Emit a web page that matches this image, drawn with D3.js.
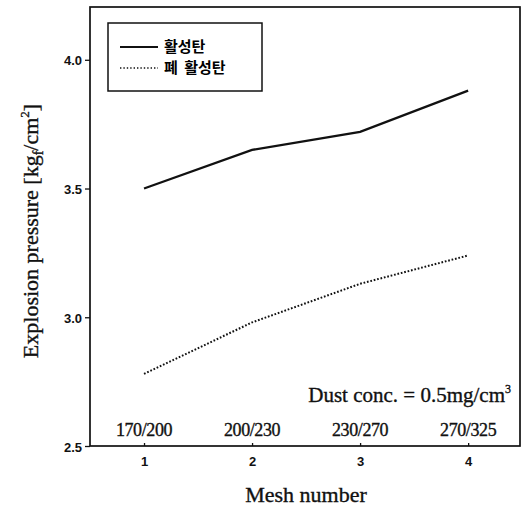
<!DOCTYPE html>
<html>
<head>
<meta charset="utf-8">
<script src="https://cdn.jsdelivr.net/npm/d3@7"></script>
<style>
  body { margin: 0; background: #fff; }
  .serif { font-family: "Liberation Serif", "Times New Roman", serif; fill: #111; stroke: #111; stroke-width: 0.35px; }
  .tick-label { font-family: "Liberation Sans", Arial, sans-serif; font-weight: bold; font-size: 13px; }
</style>
</head>
<body>
<div id="chart"></div>
<script>
// Chart data
const meshIndex = [1, 2, 3, 4];
const meshLabels = ["170/200", "200/230", "230/270", "270/325"];
const activated = [3.50, 3.65, 3.72, 3.88];   // 활성탄
const spent = [2.78, 2.98, 3.13, 3.24];       // 폐 활성탄
const yTicks = [2.5, 3.0, 3.5, 4.0];
const seriesNames = ["활성탄", "폐 활성탄"];

const width = 521, height = 508;
const plot = { left: 90, right: 520, top: 7, bottom: 446 };

const svg = d3.select("#chart").append("svg")
  .attr("width", width)
  .attr("height", height);

const x = d3.scaleLinear().domain([0.5, 4.48]).range([plot.left, plot.right]);
const y = d3.scaleLinear().domain([2.5, 4.205]).range([plot.bottom, plot.top]);

// Frame
svg.append("rect")
  .attr("x", plot.left)
  .attr("y", plot.top)
  .attr("width", plot.right - plot.left)
  .attr("height", plot.bottom - plot.top)
  .attr("fill", "none")
  .attr("stroke", "#111")
  .attr("stroke-width", 1.7);

// Y axis
const yAxis = svg.append("g")
  .attr("transform", "translate(" + plot.left + ",0)")
  .call(d3.axisLeft(y).tickValues(yTicks).tickFormat(d3.format(".1f")).tickSize(5).tickPadding(3));
yAxis.select(".domain").remove();
yAxis.selectAll("line").attr("stroke", "#111").attr("stroke-width", 1.3);
yAxis.selectAll("text").attr("class", "tick-label").attr("fill", "#111").attr("dy", "0.4em");

// X axis (ticks inside)
const xAxis = svg.append("g")
  .attr("transform", "translate(0," + plot.bottom + ")")
  .call(d3.axisBottom(x).tickValues(meshIndex).tickFormat(d3.format("d")).tickSizeInner(-3).tickSizeOuter(0).tickPadding(11));
xAxis.select(".domain").remove();
xAxis.selectAll("line").attr("stroke", "#111").attr("stroke-width", 1.3);
xAxis.selectAll("text").attr("class", "tick-label").attr("fill", "#111");

// Mesh size labels above the x axis
svg.selectAll(".mesh-label")
  .data(meshIndex)
  .enter().append("text")
  .attr("class", "mesh-label serif")
  .attr("x", d => x(d))
  .attr("y", plot.bottom - 10)
  .attr("text-anchor", "middle")
  .style("font-size", "18px")
  .style("letter-spacing", "-0.4px")
  .text((d, i) => meshLabels[i]);

// Lines
const line = d3.line()
  .x((d, i) => x(meshIndex[i]))
  .y(d => y(d));

svg.append("path")
  .datum(activated)
  .attr("d", line)
  .attr("fill", "none")
  .attr("stroke", "#111")
  .attr("stroke-width", 2.3);

svg.append("path")
  .datum(spent)
  .attr("d", line)
  .attr("fill", "none")
  .attr("stroke", "#111")
  .attr("stroke-width", 2)
  .attr("stroke-dasharray", "1.7,1.8");

// Legend
const legend = svg.append("g");
legend.append("rect")
  .attr("x", 108).attr("y", 23)
  .attr("width", 154).attr("height", 68)
  .attr("fill", "#fff")
  .attr("stroke", "#111")
  .attr("stroke-width", 1.5);

const legendRows = [
  { name: seriesNames[0], dash: null, y: 47 },
  { name: seriesNames[1], dash: "1.4,2", y: 68 }
];
legendRows.forEach(r => {
  legend.append("line")
    .attr("x1", 120).attr("x2", 158)
    .attr("y1", r.y).attr("y2", r.y)
    .attr("stroke", "#111")
    .attr("stroke-width", r.dash ? 1.5 : 1.8)
    .attr("stroke-dasharray", r.dash);
  legend.append("text")
    .attr("x", 164)
    .attr("y", r.y)
    .attr("dy", "0.36em")
    .style("font-family", "'Noto Sans CJK KR', sans-serif")
    .style("font-weight", "bold")
    .style("font-size", "15px")
    .style("word-spacing", "3px")
    .text(r.name);
});

// Annotation
const note = svg.append("text")
  .attr("class", "serif")
  .attr("x", 511)
  .attr("y", 402)
  .attr("text-anchor", "end")
  .style("font-size", "21px");
note.append("tspan").text("Dust conc. = 0.5mg/cm");
note.append("tspan").attr("dy", -9).style("font-size", "12px").text("3");

// Axis titles
svg.append("text")
  .attr("class", "serif")
  .attr("x", (plot.left + plot.right) / 2 + 1)
  .attr("y", 502)
  .attr("text-anchor", "middle")
  .style("font-size", "22px")
  .text("Mesh number");

const yTitle = svg.append("text")
  .attr("class", "serif")
  .attr("transform", "translate(38,231) rotate(-90)")
  .attr("text-anchor", "middle")
  .style("font-size", "22px");
yTitle.append("tspan").text("Explosion pressure [kg");
yTitle.append("tspan").attr("dy", 5).style("font-size", "14px").text("f");
yTitle.append("tspan").attr("dy", -5).text("/cm");
yTitle.append("tspan").attr("dy", -9).style("font-size", "13px").text("2");
yTitle.append("tspan").attr("dy", 9).text("]");
</script>
</body>
</html>
